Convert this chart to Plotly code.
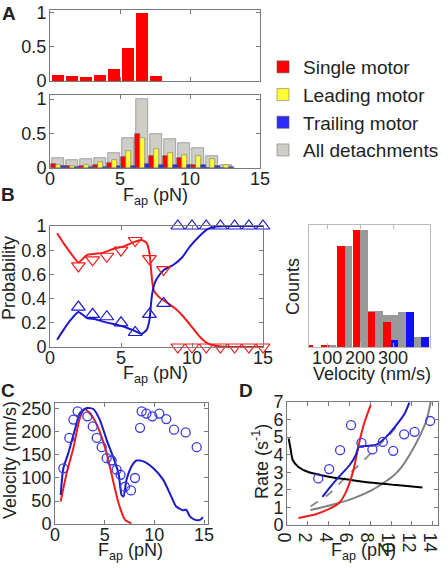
import plotly.graph_objects as go

# ---------------- data ----------------
# Panel A: force bins (pN)
force_bins = [0.55, 1.55, 2.55, 3.55, 4.55, 5.55, 6.55, 7.55, 8.55, 9.55, 10.55, 11.55, 12.55]
top_single = [0.088, 0.073, 0.06, 0.088, 0.17, 0.49, 1.0, 0.07, 0, 0, 0, 0, 0]
all_detach = [0.15, 0.11, 0.13, 0.14, 0.22, 0.43, 1.0, 0.50, 0.42, 0.37, 0.29, 0.18, 0.05]
single_m = [0.055, 0.03, 0.03, 0.04, 0.075, 0.16, 0.50, 0.18, 0.17, 0.14, 0.05, 0.0, 0.0]
leading_m = [0.045, 0.03, 0.05, 0.08, 0.12, 0.24, 0.44, 0.27, 0.22, 0.19, 0.18, 0.13, 0.04]
trailing_m = [0.03, 0.02, 0.015, 0.015, 0.03, 0.03, 0.06, 0.04, 0.04, 0.04, 0.05, 0.03, 0.02]

# Panel B left: probabilities
tri_x = [2, 3, 4, 5, 6, 7, 8, 9, 10, 11, 12, 13, 14, 15]
tri_red = [0.67, 0.72, 0.75, 0.80, 0.88, 0.73, 0.64, 0, 0, 0, 0, 0, 0, 0]
tri_blue = [0.33, 0.27, 0.25, 0.20, 0.12, 0.27, 0.36, 1, 1, 1, 1, 1, 1, 1]
red_lx = [0.5, 1.0, 1.5, 2.0, 2.6, 3.2, 3.75, 4.45, 5.15, 5.85, 6.45, 6.8, 7.0, 7.15, 7.3, 7.7, 8.2, 8.8, 9.4, 10.0, 10.55, 11.1, 11.7, 12.5, 13.5, 15.0]
red_ly = [0.94, 0.85, 0.77, 0.70, 0.76, 0.77, 0.78, 0.81, 0.83, 0.865, 0.885, 0.86, 0.78, 0.60, 0.47, 0.41, 0.37, 0.32, 0.25, 0.165, 0.085, 0.03, 0.01, 0.0, 0.0, 0.0]
blue_lx = [0.5, 1.0, 1.5, 2.0, 2.6, 3.2, 3.75, 4.45, 5.15, 5.85, 6.45, 6.8, 7.0, 7.15, 7.3, 7.5, 8.0, 8.7, 9.3, 9.85, 10.55, 11.1, 11.7, 12.5, 13.5, 15.0]
blue_ly = [0.06, 0.15, 0.23, 0.29, 0.24, 0.23, 0.21, 0.19, 0.17, 0.14, 0.11, 0.14, 0.22, 0.40, 0.50, 0.56, 0.635, 0.68, 0.74, 0.83, 0.92, 0.975, 0.995, 1.0, 1.0, 1.0]

# Panel B right: velocity histogram
vel_bins = [57, 105, 153, 200, 246, 293, 339, 386]
vel_single = [0.01, 0.02, 0.86, 1.0, 0.30, 0.21, 0, 0]
vel_all = [0, 0.02, 0.86, 1.0, 0.31, 0.27, 0.30, 0.086]
vel_trailing = [0, 0, 0, 0, 0, 0.06, 0.30, 0.086]

# Panel C: velocity vs force
c_circ_x = [0.84, 1.44, 1.85, 2.28, 3.26, 3.8, 4.2, 4.7, 5.2, 5.7, 6.2, 6.6, 7.05, 7.65, 8.05, 8.56, 8.72, 9.2, 9.8, 10.5, 11.2, 11.98, 13.15, 14.26]
c_circ_y = [121, 187, 227, 245, 234, 212, 187, 167, 143, 138, 118, 107, 81, 73, 100, 209, 245, 240, 234, 240, 228, 205, 199, 167]
c_blue_x = [0.57, 0.84, 1.34, 2.0, 2.5, 3.2, 3.85, 4.5, 5.2, 5.9, 6.4, 6.7, 6.9, 7.2, 7.7, 8.2, 8.9, 9.9, 10.9, 11.7, 12.2, 12.85, 13.2, 13.6, 14.1, 14.6, 14.9]
c_blue_y = [63, 121, 154, 205, 241, 252, 250, 227, 183, 143, 110, 63, 60, 96, 125, 138, 136, 121, 96, 60, 38, 30, 31, 16, 9, 9, 15]
c_red_x = [0.57, 1.17, 1.85, 2.5, 3.0, 3.6, 4.0, 4.5, 5.2, 5.87, 6.4, 7.05, 7.7]
c_red_y = [49, 110, 165, 230, 250, 238, 225, 201, 154, 92, 45, 9, 1.5]

# Panel D: rates vs force
d_circ_x = [3.0, 4.05, 5.1, 6.15, 7.15, 8.2, 9.2, 10.2, 11.25, 12.25, 13.75]
d_circ_y = [2.65, 3.18, 4.26, 5.68, 4.67, 4.30, 4.73, 4.22, 5.16, 5.30, 5.92]
d_black_x = [0.16, 0.35, 0.55, 1.1, 2.1, 4.0, 6.3, 8.2, 10.5, 13.0]
d_black_y = [4.92, 4.3, 3.7, 3.3, 3.0, 2.75, 2.55, 2.4, 2.27, 2.14]
d_red_x = [1.1, 2.7, 4.0, 5.0, 5.6, 6.1, 6.45, 6.9, 7.4, 8.05]
d_red_y = [0.4, 0.6, 0.9, 1.25, 1.8, 2.55, 3.3, 4.6, 5.77, 6.85]
d_blue_x = [3.4, 4.2, 5.0, 6.0, 6.6, 6.9, 7.6, 8.5, 9.5, 10.5, 11.3, 11.75]
d_blue_y = [1.6, 2.2, 2.75, 3.4, 3.97, 4.45, 4.5, 4.55, 5.0, 5.68, 6.34, 6.96]
d_dash_x = [2.25, 4.0, 5.6, 7.25, 8.5, 9.8, 10.8]
d_dash_y = [1.05, 1.75, 2.7, 3.6, 4.35, 5.1, 5.8]
d_grey_x = [2.25, 4.35, 6.3, 8.2, 10.1, 11.0, 11.75, 12.7, 13.4, 13.8]
d_grey_y = [0.85, 1.15, 1.5, 2.0, 2.74, 3.3, 3.97, 5.0, 5.96, 7.0]

# ---------------- layout helpers ----------------
W, H = 448, 568
def dx(a, b):
    return [a / W, b / W]
def dy(top, bottom):
    return [1 - bottom / H, 1 - top / H]
def px(x):
    return x / W
def py(y):
    return 1 - y / H

FONT = "Liberation Sans, Arial, Helvetica, sans-serif"
TXT = "#222222"
FS = 18
AX = dict(showline=True, linecolor="#7a7a7a", linewidth=1, mirror="ticks", ticks="inside",
          ticklen=4, tickcolor="#7a7a7a", showgrid=False, zeroline=False, automargin=False,
          tickfont=dict(size=FS, color=TXT, family=FONT))
AXX = dict(AX, ticklabelstandoff=-6)
AXY = dict(AX, ticklabelstandoff=-1)

RED = "#ff0000"
YEL = "#ffff33"
BLU = "#2b2bff"
GRY = "#cfcdc8"
LRED = "#f01c1c"
LBLU = "#1a1ac8"

fig = go.Figure()

# Panel A top
fig.add_trace(go.Bar(x=force_bins, y=top_single, width=0.83, marker=dict(color=RED, line_width=0),
                     xaxis="x", yaxis="y", showlegend=False))
# Panel A bottom
fig.add_trace(go.Bar(x=force_bins, y=all_detach, width=0.83, name="All detachments", legendrank=4,
                     marker=dict(color=GRY, line=dict(width=0.6, color="#777")), xaxis="x2", yaxis="y2"))
fig.add_trace(go.Bar(x=force_bins, y=single_m, width=0.35, offset=-0.48, name="Single motor", legendrank=1,
                     marker=dict(color=RED, line=dict(width=0.6, color="#555")), xaxis="x2", yaxis="y2"))
fig.add_trace(go.Bar(x=force_bins, y=leading_m, width=0.35, offset=-0.13, name="Leading motor", legendrank=2,
                     marker=dict(color=YEL, line=dict(width=0.6, color="#777")), xaxis="x2", yaxis="y2"))
fig.add_trace(go.Bar(x=force_bins, y=trailing_m, width=0.35, offset=0.22, name="Trailing motor", legendrank=3,
                     marker=dict(color=BLU, line=dict(width=0.6, color="#555")), xaxis="x2", yaxis="y2"))

# Panel B left
fig.add_trace(go.Scatter(x=red_lx, y=red_ly, mode="lines", line=dict(color=LRED, width=2, shape="spline", smoothing=0.6),
                         xaxis="x3", yaxis="y3", showlegend=False))
fig.add_trace(go.Scatter(x=blue_lx, y=blue_ly, mode="lines", line=dict(color=LBLU, width=2, shape="spline", smoothing=0.6),
                         xaxis="x3", yaxis="y3", showlegend=False))
fig.add_trace(go.Scatter(x=tri_x, y=tri_red, mode="markers", cliponaxis=False,
                         marker=dict(symbol="triangle-down-open", size=12, color=LRED, line=dict(width=1.2)),
                         xaxis="x3", yaxis="y3", showlegend=False))
fig.add_trace(go.Scatter(x=tri_x, y=tri_blue, mode="markers", cliponaxis=False,
                         marker=dict(symbol="triangle-up-open", size=12, color=LBLU, line=dict(width=1.2)),
                         xaxis="x3", yaxis="y3", showlegend=False))

# Panel B right
fig.add_trace(go.Bar(x=vel_bins, y=vel_all, width=46, offset=-23, marker=dict(color="#999999", line_width=0),
                     xaxis="x4", yaxis="y4", showlegend=False))
fig.add_trace(go.Bar(x=vel_bins, y=vel_single, width=23, offset=-23, marker=dict(color=RED, line_width=0),
                     xaxis="x4", yaxis="y4", showlegend=False))
fig.add_trace(go.Bar(x=vel_bins, y=vel_trailing, width=23, offset=0, marker=dict(color="#1010ff", line_width=0),
                     xaxis="x4", yaxis="y4", showlegend=False))

# Panel C
fig.add_trace(go.Scatter(x=c_red_x, y=c_red_y, mode="lines", line=dict(color=LRED, width=2, shape="spline", smoothing=0.6),
                         xaxis="x5", yaxis="y5", showlegend=False))
fig.add_trace(go.Scatter(x=c_blue_x, y=c_blue_y, mode="lines", line=dict(color=LBLU, width=2, shape="spline", smoothing=0.6),
                         xaxis="x5", yaxis="y5", showlegend=False))
fig.add_trace(go.Scatter(x=c_circ_x, y=c_circ_y, mode="markers",
                         marker=dict(symbol="circle-open", size=9, color="#3a3ae0", line=dict(width=1.3)),
                         xaxis="x5", yaxis="y5", showlegend=False))

# Panel D
fig.add_trace(go.Scatter(x=d_grey_x, y=d_grey_y, mode="lines", line=dict(color="#808080", width=2, shape="spline", smoothing=0.6),
                         xaxis="x6", yaxis="y6", showlegend=False))
fig.add_trace(go.Scatter(x=d_dash_x, y=d_dash_y, mode="lines", line=dict(color="#8a8a8a", width=1.8, dash="dash", shape="spline", smoothing=0.6),
                         xaxis="x6", yaxis="y6", showlegend=False))
fig.add_trace(go.Scatter(x=d_black_x, y=d_black_y, mode="lines", line=dict(color="#000000", width=2, shape="spline", smoothing=0.6),
                         xaxis="x6", yaxis="y6", showlegend=False))
fig.add_trace(go.Scatter(x=d_red_x, y=d_red_y, mode="lines", line=dict(color=LRED, width=2, shape="spline", smoothing=0.6),
                         xaxis="x6", yaxis="y6", showlegend=False))
fig.add_trace(go.Scatter(x=d_blue_x, y=d_blue_y, mode="lines", line=dict(color=LBLU, width=2, shape="spline", smoothing=0.6),
                         xaxis="x6", yaxis="y6", showlegend=False))
fig.add_trace(go.Scatter(x=d_circ_x, y=d_circ_y, mode="markers",
                         marker=dict(symbol="circle-open", size=9, color="#3a3ae0", line=dict(width=1.3)),
                         xaxis="x6", yaxis="y6", showlegend=False))

fig.update_layout(
    width=W, height=H, autosize=False,
    margin=dict(l=0, r=0, t=0, b=0),
    paper_bgcolor="white", plot_bgcolor="white",
    font=dict(family=FONT, size=FS, color=TXT),
    barmode="overlay", bargap=0,
    legend=dict(x=px(263), y=py(48), xanchor="left", yanchor="top", bgcolor="rgba(0,0,0,0)",
                font=dict(size=19, color=TXT, family=FONT), tracegroupgap=0, itemwidth=30),
    xaxis=dict(AXX, domain=dx(50, 260), range=[0, 15], tickvals=[0, 5, 10, 15], showticklabels=False, anchor="y"),
    yaxis=dict(AXY, domain=dy(10, 81), range=[0, 1.04], tickvals=[0, 0.5, 1], anchor="x"),
    xaxis2=dict(AXX, domain=dx(50, 260), range=[0, 15], tickvals=[0, 5, 10, 15], anchor="y2"),
    yaxis2=dict(AXY, domain=dy(95, 168), range=[0, 1.06], tickvals=[0, 0.5, 1], anchor="x2"),
    xaxis3=dict(AXX, domain=dx(50, 263), range=[0, 15], tickvals=[0, 5, 10, 15], anchor="y3"),
    yaxis3=dict(AXY, domain=dy(226, 347), range=[0, 1], tickvals=[0, 0.2, 0.4, 0.6, 0.8, 1], anchor="x3"),
    xaxis4=dict(AXX, domain=dx(309, 430), range=[45, 412], tickvals=[100, 200, 300], anchor="y4",
                linecolor="#bbbbbb", tickcolor="#bbbbbb"),
    yaxis4=dict(AXY, domain=dy(225, 347), range=[0, 1.04], tickvals=[], showticklabels=False, anchor="x4",
                linecolor="#bbbbbb"),
    xaxis5=dict(AXX, domain=dx(55, 208), range=[0, 15.4], tickvals=[0, 5, 10, 15], anchor="y5"),
    yaxis5=dict(AXY, domain=dy(403, 524), range=[0, 263], tickvals=[0, 50, 100, 150, 200, 250], anchor="x5"),
    xaxis6=dict(AXX, domain=dx(287, 438), range=[0, 14.5], tickvals=[0, 2, 4, 6, 8, 10, 12, 14], anchor="y6"),
    yaxis6=dict(AXY, domain=dy(402, 525), range=[0, 7], tickvals=[0, 1, 2, 3, 4, 5, 6, 7], anchor="x6"),
)

ann = []
def label(text, x, y, size=FS, bold=False, angle=0):
    t = "<b>%s</b>" % text if bold else text
    ann.append(dict(text=t, x=px(x), y=py(y), xref="paper", yref="paper", showarrow=False,
                    xanchor="center", yanchor="middle", textangle=angle,
                    font=dict(size=size, color=TXT, family=FONT)))

label("A", 9, 14, size=19, bold=True)
label("B", 8, 194, size=19, bold=True)
label("C", 8, 390, size=19, bold=True)
label("D", 246, 390, size=19, bold=True)
label("F<sub>ap</sub> (pN)", 155, 196)
label("Probability", 9, 278, angle=-90)
label("F<sub>ap</sub> (pN)", 155, 374)
label("Counts", 293, 287, angle=-90)
label("Velocity (nm/s)", 372, 374)
label("Velocity (nm/s)", 10, 460, angle=-90)
label("F<sub>ap</sub> (pN)", 130, 551)
label("Rate (s<sup>-1</sup>)", 260, 462, angle=-90)
label("F<sub>ap</sub> (pN)", 363, 551)
fig.update_layout(annotations=ann)

fig.write_html("out.html", config={"displayModeBar": False},
               post_script="document.body.style.margin='0';document.body.style.padding='0';")
